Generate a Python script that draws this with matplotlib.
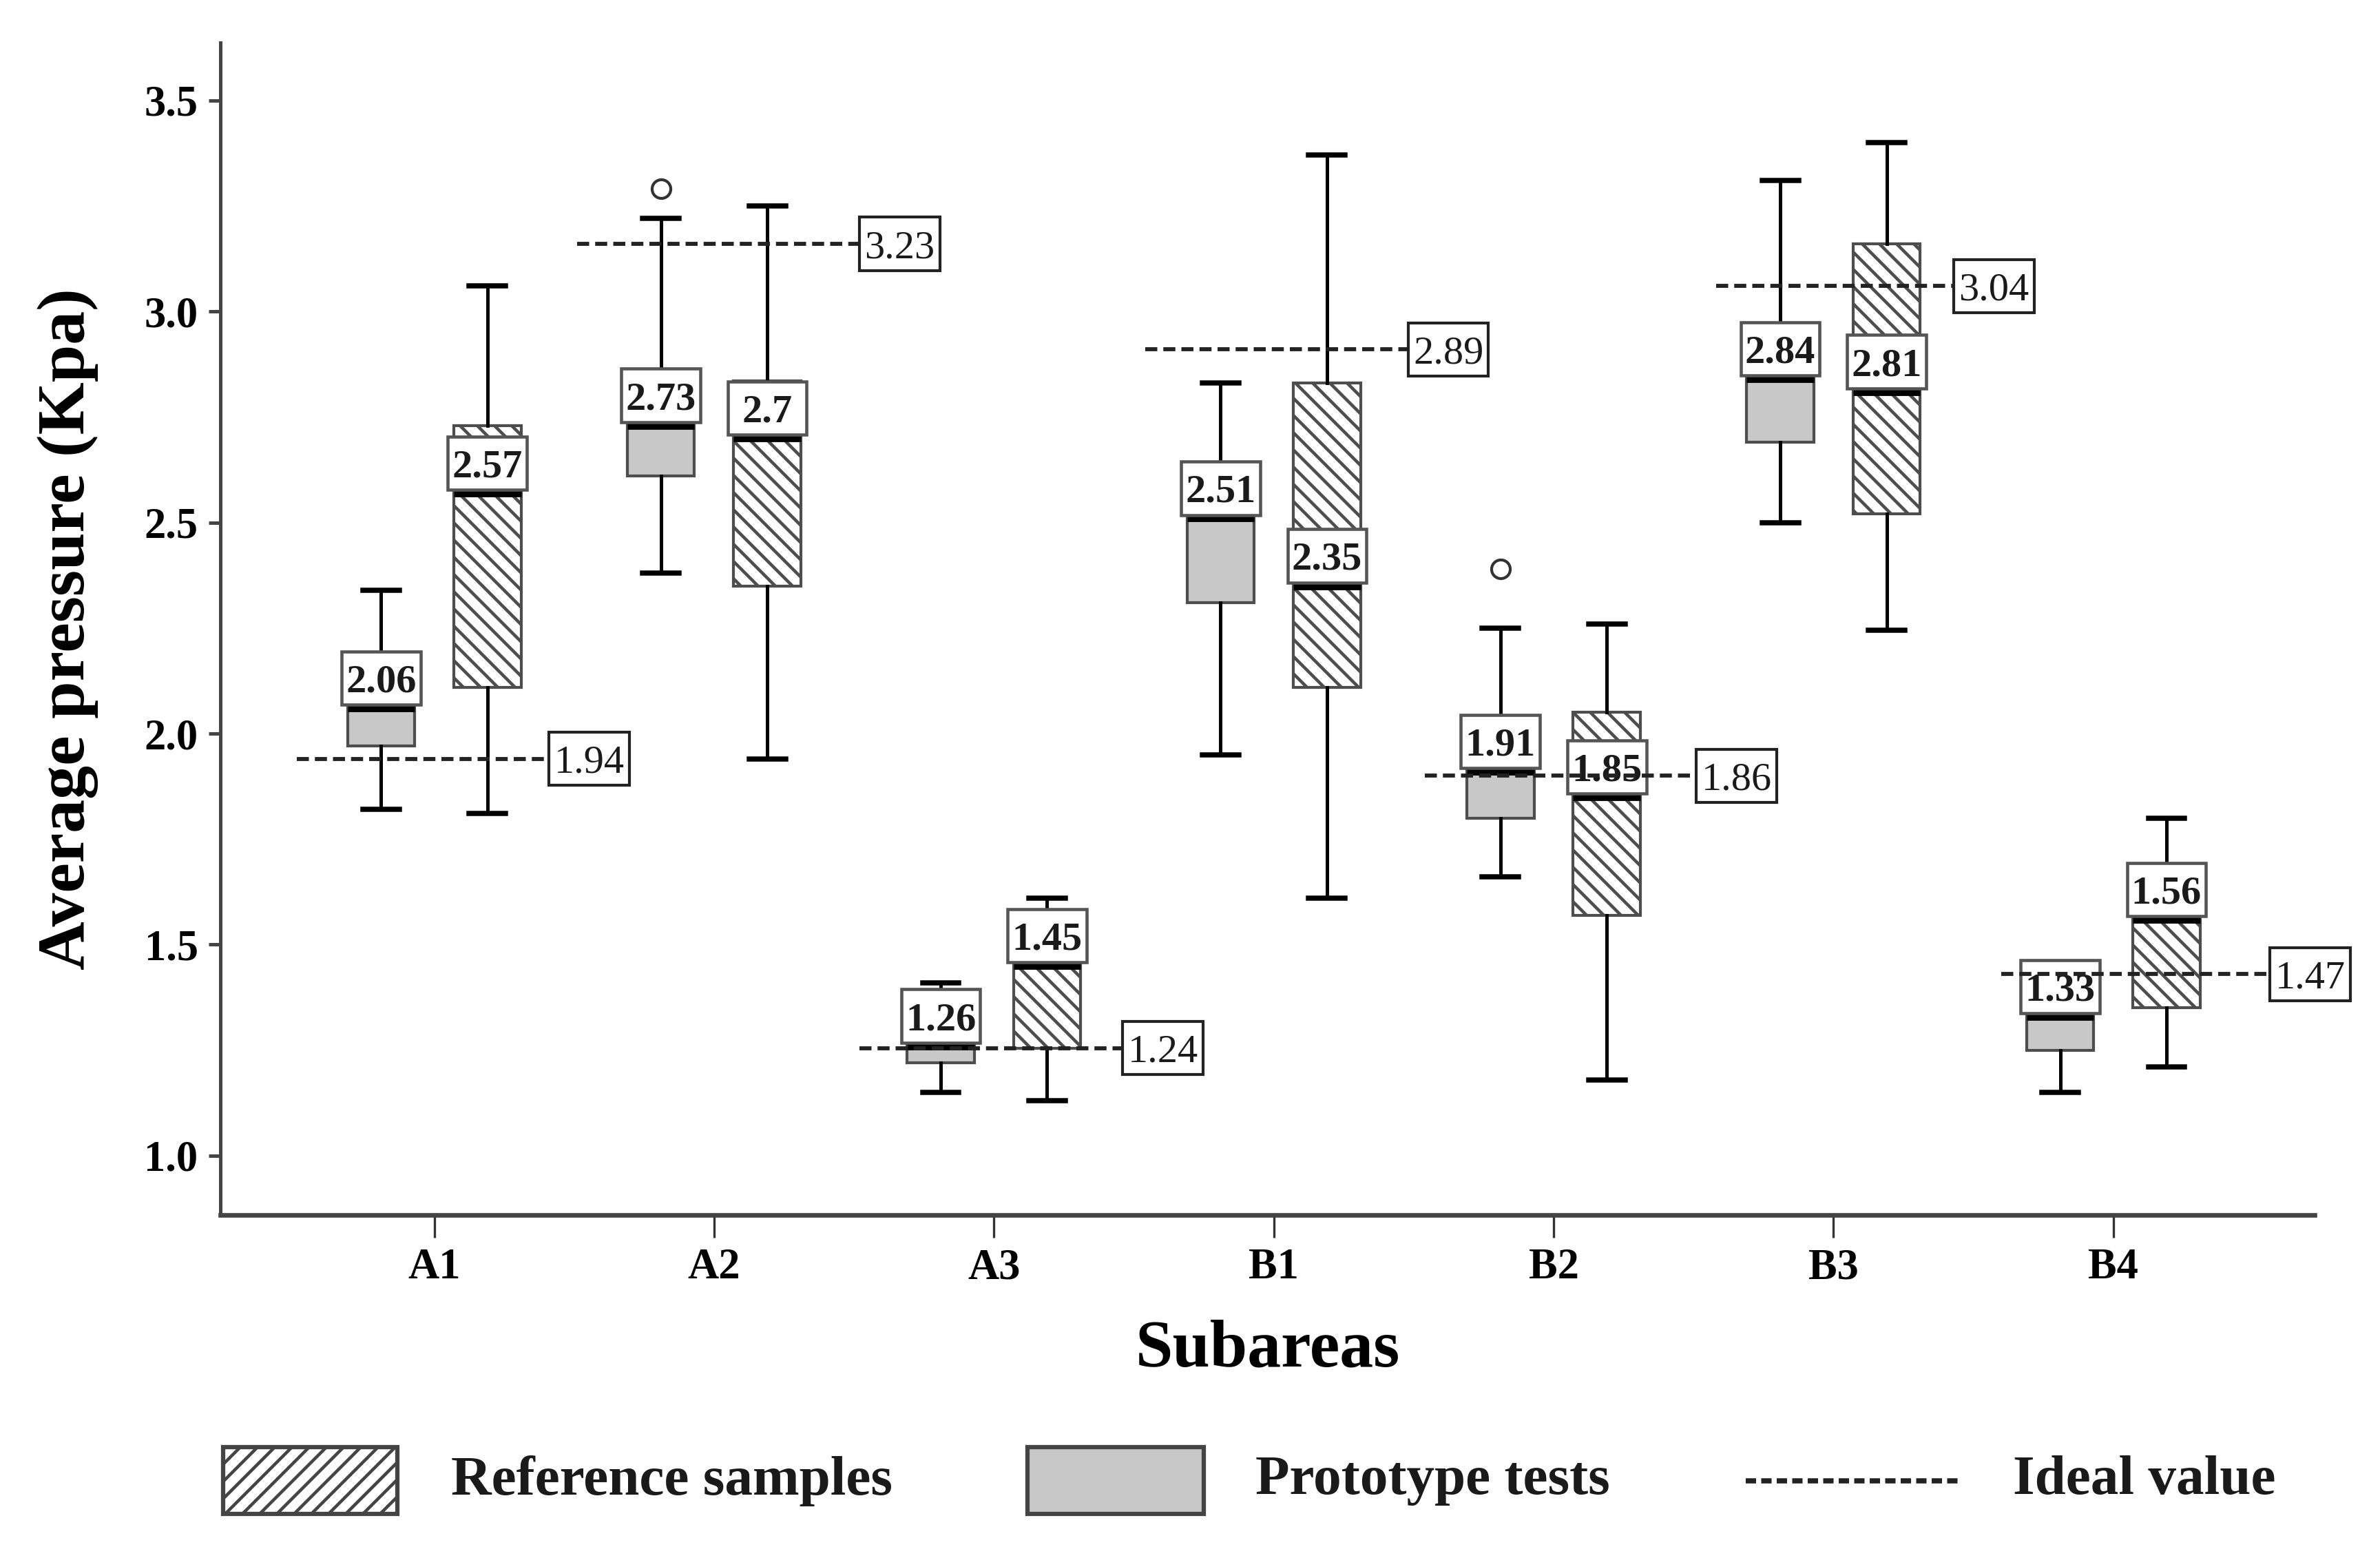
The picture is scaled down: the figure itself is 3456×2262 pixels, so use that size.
import matplotlib
matplotlib.use("Agg")
import matplotlib.pyplot as plt
from matplotlib.patches import Rectangle
from matplotlib.lines import Line2D
import numpy as np

# ── Data ───────────────────────────────────────────────────────────────────
categories = ["A1", "A2", "A3", "B1", "B2", "B3", "B4"]

# Prototype tests (grey boxes)
proto_med = [2.06, 2.73, 1.26, 2.51, 1.91, 2.84, 1.33]
proto_q1 = [1.97, 2.61, 1.22, 2.31, 1.80, 2.69, 1.25]
proto_q3 = [2.12, 2.84, 1.36, 2.60, 2.00, 2.94, 1.40]
proto_lo = [1.82, 2.38, 1.15, 1.95, 1.66, 2.50, 1.15]
proto_hi = [2.34, 3.22, 1.41, 2.83, 2.25, 3.31, 1.43]
proto_out = [[], [3.29], [], [], [2.39], [], []]

# Reference samples (hatched boxes)
ref_med = [2.57, 2.70, 1.45, 2.35, 1.85, 2.81, 1.56]
ref_q1 = [2.11, 2.35, 1.255, 2.11, 1.57, 2.52, 1.35]
ref_q3 = [2.73, 2.835, 1.55, 2.83, 2.05, 3.16, 1.66]
ref_lo = [1.81, 1.94, 1.13, 1.61, 1.18, 2.245, 1.21]
ref_hi = [3.06, 3.25, 1.61, 3.37, 2.26, 3.40, 1.80]
ref_out = [[], [], [], [], [], [], []]

# Ideal values: printed label and level where the dashed line is drawn
ideal_text = ["1.94", "3.23", "1.24", "2.89", "1.86", "3.04", "1.47"]
ideal_level = [1.94, 3.16, 1.255, 2.91, 1.90, 3.06, 1.43]

# layout of the dashed lines (offsets from the category centre)
ideal_x0 = [-0.49, -0.49, -0.48, -0.46, -0.46, -0.42, -0.40]
ideal_x1 = [0.41, 0.52, 0.46, 0.48, 0.51, 0.43, 0.56]

TXT = "#1a1a1a"
GREY = "#c8c8c8"
EDGE = "#4d4d4d"

# label box size in data units
LAB_W, LAB_H = 0.282, 0.126
IDL_W, IDL_H = 0.287, 0.126

plt.rcParams.update({
    "font.family": "Liberation Serif",
    "hatch.linewidth": 1.1,
    "hatch.color": "#333333",
    "text.color": TXT,
})


def make_stats(med, q1, q3, lo, hi, out):
    return [dict(med=m, q1=a, q3=b, whislo=l, whishi=h, fliers=f)
            for m, a, b, l, h, f in zip(med, q1, q3, lo, hi, out)]


fig = plt.figure(figsize=(11.52, 7.54), dpi=300)
ax = fig.add_axes([0.0925, 0.2203, 0.8801, 0.7524])

pos = np.arange(len(categories))
off = 0.19
common = dict(widths=0.24, capwidths=0.13, patch_artist=True, manage_ticks=False,
              medianprops=dict(color="black", lw=2.6, solid_capstyle="butt"),
              whiskerprops=dict(color="black", lw=1.2),
              capprops=dict(color="black", lw=1.8),
              flierprops=dict(marker="o", markerfacecolor="none",
                              markeredgecolor="#333333", markersize=6.5,
                              markeredgewidth=1.0))

bp_p = ax.bxp(make_stats(proto_med, proto_q1, proto_q3, proto_lo, proto_hi, proto_out),
              positions=pos - off,
              boxprops=dict(facecolor=GREY, edgecolor=EDGE, lw=1.0), **common)
bp_r = ax.bxp(make_stats(ref_med, ref_q1, ref_q3, ref_lo, ref_hi, ref_out),
              positions=pos + off,
              boxprops=dict(facecolor="white", edgecolor=EDGE, lw=1.0,
                            hatch="\\\\\\\\"), **common)

# median labels: white box sitting on the median line
for xs, meds in ((pos - off, proto_med), (pos + off, ref_med)):
    for x, m in zip(xs, meds):
        y0 = m + 0.008
        ax.add_patch(Rectangle((x - LAB_W / 2, y0), LAB_W, LAB_H, facecolor="white",
                               edgecolor="#555555", lw=1.1, zorder=4))
        ax.text(x, y0 + LAB_H / 2, f"{m:g}", ha="center", va="center_baseline",
                fontsize=14, fontweight="bold", zorder=4.5)

# ideal value lines + labels
for x, lvl, txt, a, b in zip(pos, ideal_level, ideal_text, ideal_x0, ideal_x1):
    ax.plot([x + a, x + b], [lvl, lvl], color="#222222", lw=1.4,
            linestyle=(0, (3, 1.5)), zorder=5)
    ax.add_patch(Rectangle((x + b, lvl - IDL_H / 2), IDL_W, IDL_H, facecolor="white",
                           edgecolor="#222222", lw=1.0, zorder=6, clip_on=False))
    ax.text(x + b + IDL_W / 2, lvl, txt, ha="center", va="center_baseline",
            fontsize=14, zorder=6.5, clip_on=False)

# axes styling
ax.set_xlim(-0.765, 6.72)
ax.set_ylim(0.86, 3.637)
ax.set_xticks(pos)
ax.set_xticklabels(categories, fontsize=15, fontweight="bold")
ax.set_yticks([1.0, 1.5, 2.0, 2.5, 3.0, 3.5])
ax.set_yticklabels(["1.0", "1.5", "2.0", "2.5", "3.0", "3.5"], fontsize=15, fontweight="bold")
ax.tick_params(axis="x", length=8, width=0.8, color="#333333", pad=3.7)
ax.tick_params(axis="y", length=4.2, width=1.2, color="#444444", pad=3.5)
ax.spines["top"].set_visible(False)
ax.spines["right"].set_visible(False)
ax.spines["left"].set_linewidth(1.2)
ax.spines["left"].set_color("#444444")
ax.spines["bottom"].set_linewidth(1.6)
ax.spines["bottom"].set_color("#444444")

ax.set_ylabel("Average pressure (Kpa)", fontsize=23.5, fontweight="bold")
ax.yaxis.set_label_coords(-0.058, 0.5)
ax.set_xlabel("Subareas", fontsize=23.5, fontweight="bold", va="top")
ax.xaxis.set_label_coords(0.5, -0.089)

# legend, drawn in figure coordinates
fig.add_artist(Rectangle((0.0938, 0.0283), 0.0733, 0.0429, transform=fig.transFigure,
                         facecolor="white", edgecolor="#444444", lw=1.5, hatch="////"))
fig.text(0.1894, 0.0497, "Reference samples", fontsize=19.5, fontweight="bold",
         ha="left", va="center")
fig.add_artist(Rectangle((0.4318, 0.0283), 0.0739, 0.0429, transform=fig.transFigure,
                         facecolor=GREY, edgecolor="#444444", lw=1.5))
fig.text(0.5274, 0.0497, "Prototype tests", fontsize=19.5, fontweight="bold",
         ha="left", va="center")
fig.add_artist(Line2D([0.7334, 0.8227], [0.0497, 0.0497], transform=fig.transFigure,
                      color="#222222", lw=1.8, linestyle=(0, (2, 1))))
fig.text(0.8457, 0.0497, "Ideal value", fontsize=19.5, fontweight="bold",
         ha="left", va="center")

fig.savefig("out.png", dpi=300)
